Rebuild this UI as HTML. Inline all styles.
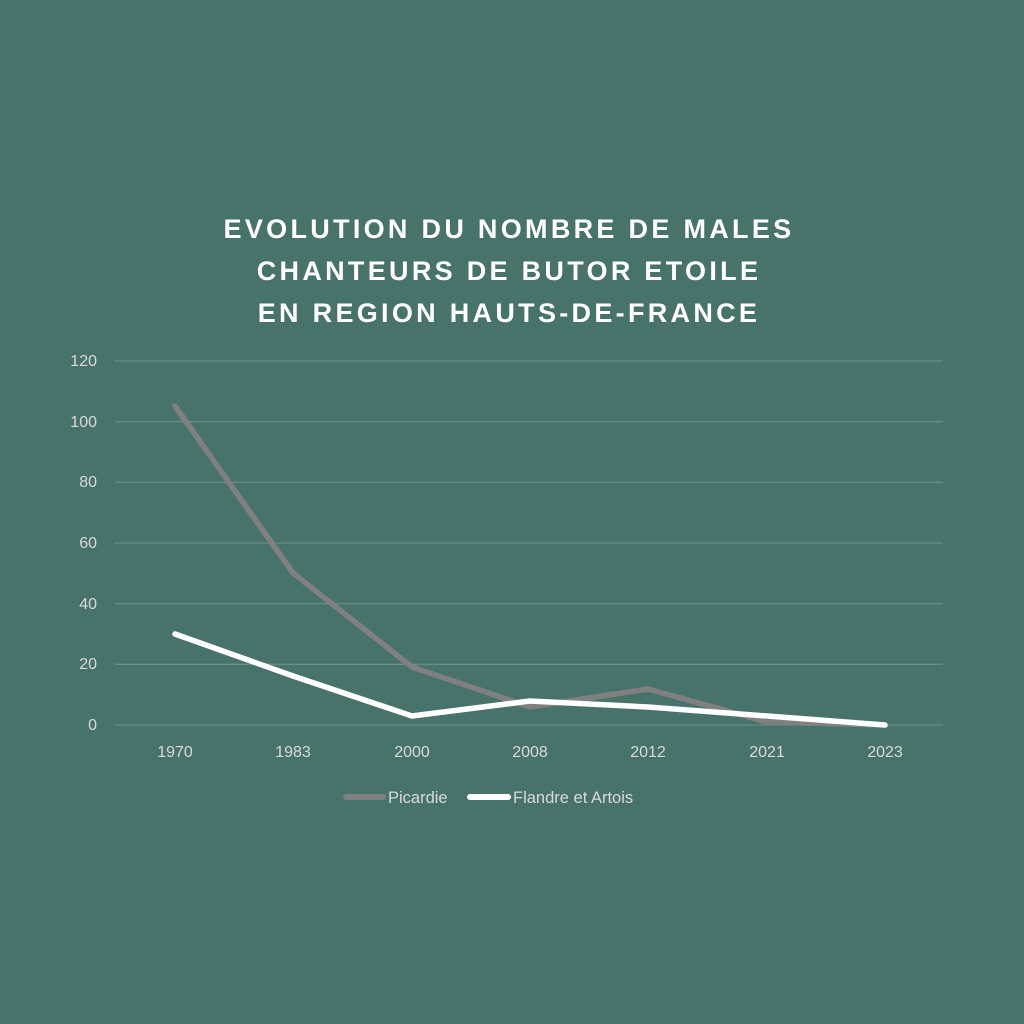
<!DOCTYPE html>
<html><head><meta charset="utf-8"><style>
html,body{margin:0;padding:0;background:#48736b;}
svg{display:block;font-family:"Liberation Sans",sans-serif;}
</style></head><body>
<svg width="1024" height="1024" viewBox="0 0 1024 1024">
<rect width="1024" height="1024" fill="#48736b"/>
<g fill="#fff" font-weight="bold" font-size="27" text-anchor="middle" letter-spacing="3.3">
<text x="509" y="238">EVOLUTION  DU NOMBRE  DE MALES</text>
<text x="509" y="280">CHANTEURS  DE BUTOR ETOILE</text>
<text x="509" y="322">EN REGION  HAUTS-DE-FRANCE</text>
</g>
<g stroke="#6a8c85" stroke-width="1.3">
<line x1="115" x2="943" y1="361" y2="361"/><line x1="115" x2="943" y1="421.7" y2="421.7"/>
<line x1="115" x2="943" y1="482.3" y2="482.3"/><line x1="115" x2="943" y1="543" y2="543"/>
<line x1="115" x2="943" y1="603.7" y2="603.7"/><line x1="115" x2="943" y1="664.3" y2="664.3"/>
<line x1="115" x2="943" y1="725" y2="725"/>
</g>
<g fill="#d9d9d9" font-size="16" text-anchor="end">
<text x="97" y="366">120</text><text x="97" y="427">100</text><text x="97" y="487">80</text>
<text x="97" y="548">60</text><text x="97" y="609">40</text><text x="97" y="669">20</text><text x="97" y="730">0</text>
</g>
<g fill="#d9d9d9" font-size="16" text-anchor="middle">
<text x="175" y="757">1970</text><text x="293" y="757">1983</text><text x="412" y="757">2000</text>
<text x="530" y="757">2008</text><text x="648" y="757">2012</text><text x="767" y="757">2021</text><text x="885" y="757">2023</text>
</g>
<polyline fill="none" stroke="#808080" stroke-width="5.5" stroke-linecap="round" stroke-linejoin="round"
points="175,406 293,573 412,667 530,707 648,689 767,722 885,725"/>
<polyline fill="none" stroke="#ffffff" stroke-width="5.5" stroke-linecap="round" stroke-linejoin="round"
points="175,634 293,676 412,716 530,701 648,707 767,716 885,725"/>
<line x1="346" x2="383" y1="797" y2="797" stroke="#808080" stroke-width="6" stroke-linecap="round"/>
<text x="388" y="803" fill="#d9d9d9" font-size="16.5">Picardie</text>
<line x1="470" x2="508" y1="797" y2="797" stroke="#fff" stroke-width="6" stroke-linecap="round"/>
<text x="513" y="803" fill="#d9d9d9" font-size="16.5">Flandre et Artois</text>
</svg>
</body></html>
